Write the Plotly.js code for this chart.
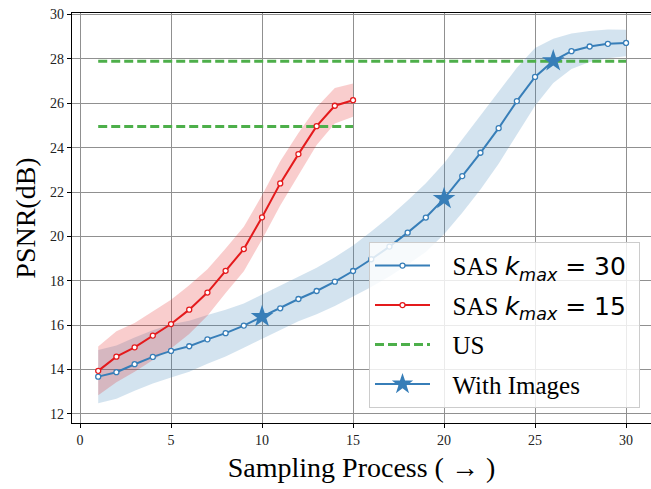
<!DOCTYPE html>
<html>
<head>
<meta charset="utf-8">
<script src="https://cdn.plot.ly/plotly-3.0.1.min.js"></script>
<style>html,body{margin:0;padding:0;background:#fff;}#chart{width:651px;height:489px;}</style>
</head>
<body>
<div id="chart"></div>
<script>
// ---- data ----
var steps30 = [1,2,3,4,5,6,7,8,9,10,11,12,13,14,15,16,17,18,19,20,21,22,23,24,25,26,27,28,29,30];
var sas30Mean = [13.68,13.88,14.24,14.57,14.84,15.05,15.36,15.64,15.98,16.38,16.76,17.18,17.54,17.96,18.44,18.97,19.54,20.17,20.85,21.70,22.72,23.77,24.88,26.10,27.19,27.91,28.35,28.56,28.68,28.72];
var sas30Std = [1.2,1.2,1.2,1.2,1.2,1.15,1.1,1.05,1.0,1.0,1.0,1.0,1.05,1.1,1.15,1.25,1.35,1.45,1.55,1.6,1.65,1.65,1.6,1.5,1.3,1.0,0.8,0.7,0.65,0.6];
var steps15 = [1,2,3,4,5,6,7,8,9,10,11,12,13,14,15];
var sas15Mean = [13.94,14.58,15.00,15.53,16.05,16.70,17.47,18.45,19.43,20.86,22.39,23.71,24.97,25.89,26.14];
var sas15Std = [1.1,1.15,1.1,1.1,1.1,1.1,1.05,1.0,1.0,1.0,1.0,0.95,0.85,0.8,0.75];
var usLevels = [27.9, 24.95];
var usStart = [1, 1];
var usEnd = [30, 15];
var imageSteps = [10, 20, 26];
var xTicks = [0,5,10,15,20,25,30];
var yTicks = [12,14,16,18,20,22,24,26,28,30];

var BLUE = '#377eb8', RED = '#e41a1c', GREEN = '#4daf4a';
var serif = 'Liberation Serif, Times New Roman, serif';

function add(a, b, s) { return a.map(function (v, i) { return v + s * b[i]; }); }

var traces = [];
// bands
traces.push({x: steps30, y: add(sas30Mean, sas30Std, 1), mode: 'lines', line: {width: 0, color: BLUE}, showlegend: false, hoverinfo: 'skip'});
traces.push({x: steps30, y: add(sas30Mean, sas30Std, -1), mode: 'lines', line: {width: 0, color: BLUE}, fill: 'tonexty', fillcolor: 'rgba(55,126,184,0.22)', showlegend: false, hoverinfo: 'skip'});
traces.push({x: steps15, y: add(sas15Mean, sas15Std, 1), mode: 'lines', line: {width: 0, color: RED}, showlegend: false, hoverinfo: 'skip'});
traces.push({x: steps15, y: add(sas15Mean, sas15Std, -1), mode: 'lines', line: {width: 0, color: RED}, fill: 'tonexty', fillcolor: 'rgba(228,26,28,0.22)', showlegend: false, hoverinfo: 'skip'});
// US dashed levels
var pad = '\u00a0\u00a0\u2009';
usLevels.forEach(function (lv, i) {
  traces.push({x: [usStart[i], usEnd[i]], y: [lv, lv], mode: 'lines', name: pad + 'US',
    line: {color: GREEN, width: 3, dash: '9px,4px'}, showlegend: i === 0, legendgroup: 'us', legendrank: 3});
});
// series
function sasName(k) {
  return pad + '<span style="font-family:\'Liberation Serif\'">SAS </span>' +
    '<span style="font-family:\'DejaVu Sans\'"><i>k</i><sub><i>max</i></sub> = ' + k + '\u00a0</span>';
}
traces.push({x: steps30, y: sas30Mean, mode: 'lines+markers', name: sasName(30),
  line: {color: BLUE, width: 2}, marker: {symbol: 'circle', size: 5, color: '#fff', line: {color: BLUE, width: 1.3}},
  legendgroup: 'b', legendrank: 1});
traces.push({x: steps15, y: sas15Mean, mode: 'lines+markers', name: sasName(15),
  line: {color: RED, width: 2}, marker: {symbol: 'circle', size: 5, color: '#fff', line: {color: RED, width: 1.3}},
  legendgroup: 'r', legendrank: 2});
// stars (points separated by gaps so no connecting line is drawn, legend still shows line+star)
var sx = [], sy = [];
imageSteps.forEach(function (s, i) {
  if (i > 0) { sx.push(null); sy.push(null); }
  sx.push(s); sy.push(sas30Mean[steps30.indexOf(s)]);
});
traces.push({x: sx, y: sy, mode: 'lines+markers', connectgaps: false, name: pad + 'With Images',
  line: {color: BLUE, width: 2}, marker: {symbol: 'star', size: 17, color: BLUE, line: {width: 0}},
  legendgroup: 's', legendrank: 4});

var layout = {
  width: 651, height: 489,
  margin: {l: 72, r: 0, t: 13, b: 66},
  paper_bgcolor: '#fff', plot_bgcolor: '#fff',
  showlegend: true,
  xaxis: {
    range: [-0.44, 31.37], tickvals: xTicks, ticktext: xTicks.map(String),
    showgrid: true, gridcolor: '#909090', gridwidth: 1, zeroline: false,
    showline: true, linecolor: '#000', linewidth: 1.3, mirror: true,
    ticks: 'outside', ticklen: 4, tickwidth: 1, tickcolor: '#000',
    tickfont: {family: serif, size: 14, color: '#222'},
    title: {text: 'Sampling Process ( \u2192 )', font: {family: serif, size: 28, color: '#000'}, standoff: 10}
  },
  yaxis: {
    range: [11.59, 30.07], tickvals: yTicks, ticktext: yTicks.map(String),
    showgrid: true, gridcolor: '#909090', gridwidth: 1, zeroline: false,
    showline: true, linecolor: '#000', linewidth: 1.3, mirror: false,
    ticks: 'outside', ticklen: 4, tickwidth: 1, tickcolor: '#000',
    tickfont: {family: serif, size: 14, color: '#222'},
    title: {text: 'PSNR(dB)', font: {family: serif, size: 28, color: '#000'}, standoff: 6}
  },
  legend: {
    x: 0.981, y: 0.037, xanchor: 'right', yanchor: 'bottom',
    bgcolor: 'rgba(255,255,255,0.82)', bordercolor: '#cccccc', borderwidth: 1,
    font: {family: serif, size: 25, color: '#000'},
    traceorder: 'grouped', tracegroupgap: 4, itemwidth: 55
  }
};

Plotly.newPlot('chart', traces, layout, {displayModeBar: false, staticPlot: true});
</script>
</body>
</html>
